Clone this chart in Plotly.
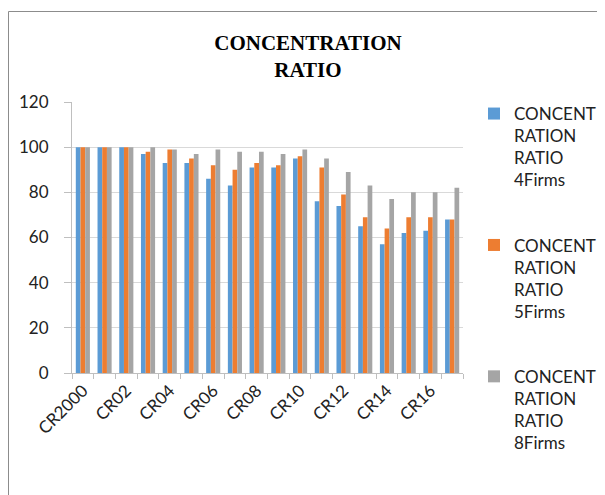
import plotly.graph_objects as go

categories = ["CR2000", "CR01", "CR02", "CR03", "CR04", "CR05", "CR06", "CR07", "CR08",
              "CR09", "CR10", "CR11", "CR12", "CR13", "CR14", "CR15", "CR16", "CR17"]
firms4 = [100, 100, 100, 97, 93, 93, 86, 83, 91, 91, 95, 76, 74, 65, 57, 62, 63, 68]
firms5 = [100, 100, 100, 98, 99, 95, 92, 90, 93, 92, 96, 91, 79, 69, 64, 69, 69, 68]
firms8 = [100, 100, 100, 100, 99, 97, 99, 98, 98, 97, 99, 95, 89, 83, 77, 80, 80, 82]
series_names = ["CONCENT<br>RATION<br>RATIO<br>4Firms",
                "CONCENT<br>RATION<br>RATIO<br>5Firms",
                "CONCENT<br>RATION<br>RATIO<br>8Firms"]
colors = ["#5B9BD5", "#ED7D31", "#A5A5A5"]
tick_text = [c if i % 2 == 0 else "" for i, c in enumerate(categories)]

# page body has an 8px default margin; figure is sized to fill the rest of the window
OFF = 8
W, H = 605 - OFF, 495 - OFF
L, T = 72 - OFF, 102 - OFF
pw, ph = 391, 271
R, B = W - L - pw, H - T - ph
base_y = T + ph  # pixel row of value 0 (figure coords)

fig = go.Figure()
for i, (vals, name) in enumerate(zip([firms4, firms5, firms8], series_names)):
    fig.add_trace(go.Bar(x=categories, y=vals, name=name, marker_color=colors[i],
                         marker_line_width=0, legendgroup=f"g{i}"))

font_main = "Lato, 'Noto Sans', sans-serif"
fig.update_layout(
    width=W, height=H,
    margin=dict(l=L, r=R, t=T, b=B, autoexpand=False),
    paper_bgcolor="white", plot_bgcolor="white",
    barmode="group", bargap=0.35, bargroupgap=0,
    font=dict(family=font_main, size=17, color="#222222"),
    title=dict(text="<b>CONCENTRATION<br>RATIO</b>",
               font=dict(family="'Liberation Serif', 'Times New Roman', serif", size=21, color="#000000"),
               x=300 / W, xanchor="center", xref="container",
               y=1 - 42 / H, yanchor="top", yref="container"),
    legend=dict(x=(466 - L) / pw, xanchor="left", y=(base_y - 88) / ph, yanchor="top",
                valign="top", tracegroupgap=40, traceorder="grouped", maxheight=450,
                font=dict(family=font_main, size=17, color="#222222"),
                bgcolor="rgba(0,0,0,0)"),
    xaxis=dict(type="category", tickmode="array", tickvals=categories, ticktext=tick_text,
               tickangle=-45, tickson="boundaries", ticks="outside", ticklen=5,
               tickcolor="#bfbfbf", showline=True, linecolor="#bfbfbf", linewidth=1,
               showgrid=False, tickfont=dict(size=17)),
    yaxis=dict(range=[0, 120], dtick=20, tick0=0, showgrid=True, gridcolor="#d9d9d9",
               gridwidth=1, showline=True, linecolor="#bfbfbf", ticks="outside",
               ticklen=7, tickcolor="#bfbfbf", zeroline=False, tickfont=dict(size=17),
               ticklabelstandoff=12),
    shapes=[dict(type="rect", xref="paper", yref="paper",
                 x0=(0.5 - L) / pw, x1=(615 - L) / pw,
                 y0=(base_y - 505) / ph, y1=(base_y - 3.5) / ph,
                 line=dict(color="#8c8c8c", width=1), fillcolor="rgba(0,0,0,0)", layer="below")],
)

fig.write_html("out.html")
